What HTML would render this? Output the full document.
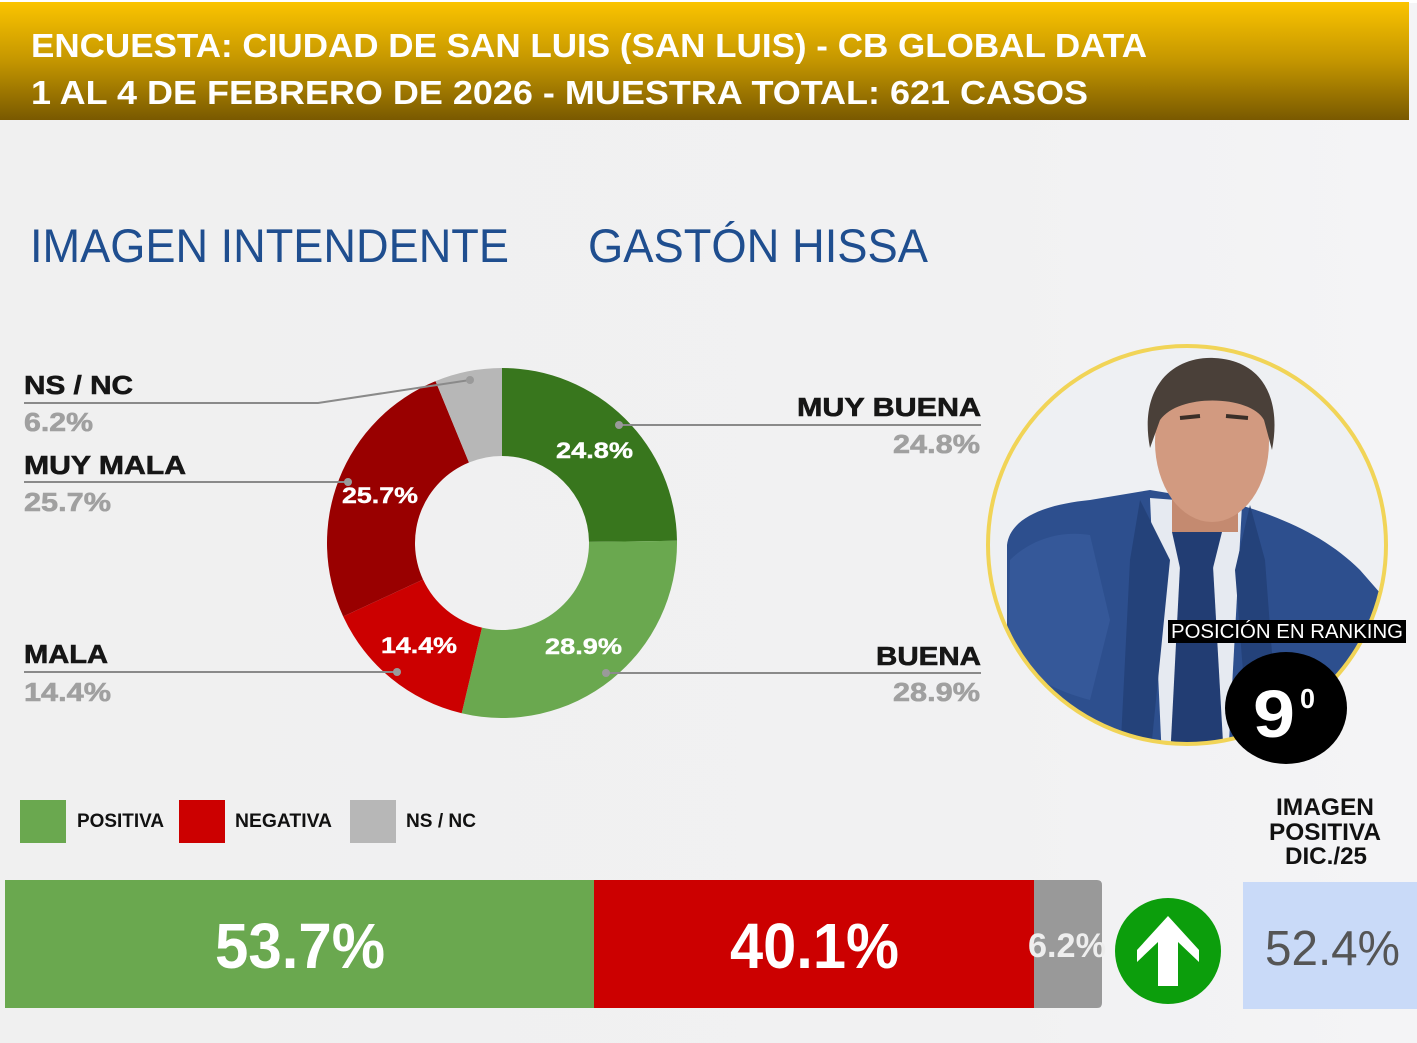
<!DOCTYPE html>
<html><head><meta charset="utf-8"><style>
html,body{margin:0;padding:0;background:#f1f1f1;}
svg{display:block;}
</style></head><body>
<svg width="1417" height="1043" viewBox="0 0 1417 1043" xmlns="http://www.w3.org/2000/svg">
<defs>
<linearGradient id="hdr" x1="0" y1="0" x2="0" y2="1">
<stop offset="0" stop-color="#fbc400"/>
<stop offset="0.5" stop-color="#c49600"/>
<stop offset="1" stop-color="#795900"/>
</linearGradient>
<linearGradient id="bgr" x1="0" y1="0" x2="1" y2="0">
<stop offset="0" stop-color="#f0f0f0"/>
<stop offset="0.7" stop-color="#f1f1f2"/>
<stop offset="1" stop-color="#f4f4f6"/>
</linearGradient>
<clipPath id="cc"><circle cx="1187" cy="545" r="198"/></clipPath>
</defs>
<rect width="1417" height="1043" fill="url(#bgr)"/>
<rect width="1417" height="3" fill="#ffffff"/>
<rect x="0" y="2" width="1409" height="118" fill="url(#hdr)"/>
<g font-family="'Liberation Sans', 'DejaVu Sans', sans-serif" font-weight="bold" fill="#ffffff" font-size="33">
<text x="31" y="57" textLength="1116" lengthAdjust="spacingAndGlyphs">ENCUESTA: CIUDAD DE SAN LUIS (SAN LUIS) - CB GLOBAL DATA</text>
<text x="31" y="104" textLength="1057" lengthAdjust="spacingAndGlyphs">1 AL 4 DE FEBRERO DE 2026 - MUESTRA TOTAL: 621 CASOS</text>
</g>
<g font-family="'Liberation Sans', sans-serif" fill="#1f4e8f" font-size="47">
<text x="30" y="262" textLength="479" lengthAdjust="spacingAndGlyphs">IMAGEN INTENDENTE</text>
<text x="588" y="262" textLength="340" lengthAdjust="spacingAndGlyphs">GASTÓN HISSA</text>
</g>
<!-- donut -->
<path d="M502,368 A175,175 0 0 1 676.99,540.8 L588.99,541.91 A87,87 0 0 0 502,456 Z" fill="#38761d"/>
<path d="M676.99,540.8 A175,175 0 0 1 461.68,713.29 L481.96,627.66 A87,87 0 0 0 588.99,541.91 Z" fill="#6aa84f"/>
<path d="M461.68,713.29 A175,175 0 0 1 343.19,616.52 L423.05,579.55 A87,87 0 0 0 481.96,627.66 Z" fill="#cc0000"/>
<path d="M343.19,616.52 A175,175 0 0 1 435.54,381.11 L468.96,462.52 A87,87 0 0 0 423.05,579.55 Z" fill="#990000"/>
<path d="M435.54,381.11 A175,175 0 0 1 502,368 L502,456 A87,87 0 0 0 468.96,462.52 Z" fill="#b7b7b7"/>
<g font-family="'Liberation Sans', sans-serif" font-weight="bold" fill="#ffffff" font-size="22" stroke="#ffffff" stroke-width="0.4">
<text x="556" y="458" textLength="77" lengthAdjust="spacingAndGlyphs">24.8%</text>
<text x="342" y="503" textLength="76" lengthAdjust="spacingAndGlyphs">25.7%</text>
<text x="381" y="653" textLength="76" lengthAdjust="spacingAndGlyphs">14.4%</text>
<text x="545" y="654" textLength="77" lengthAdjust="spacingAndGlyphs">28.9%</text>
</g>
<!-- leader lines -->
<g stroke="#8a8a8a" stroke-width="2" fill="none">
<polyline points="24,403 318,403 470,380"/>
<line x1="24" y1="482" x2="348" y2="482"/>
<line x1="24" y1="672" x2="397" y2="672"/>
<line x1="619" y1="425" x2="981" y2="425"/>
<line x1="606" y1="673" x2="981" y2="673"/>
</g>
<g fill="#9a9a9a">
<circle cx="470" cy="380" r="4"/>
<circle cx="348" cy="482" r="4"/>
<circle cx="397" cy="672" r="4"/>
<circle cx="619" cy="425" r="4"/>
<circle cx="606" cy="673" r="4"/>
</g>
<g font-family="'Liberation Sans', sans-serif" font-weight="bold" font-size="26" stroke-width="0.6">
<text x="24" y="394" fill="#161616" stroke="#161616" textLength="109" lengthAdjust="spacingAndGlyphs">NS / NC</text>
<text x="24" y="431" fill="#a0a0a0" stroke="#a0a0a0" textLength="69" lengthAdjust="spacingAndGlyphs">6.2%</text>
<text x="24" y="474" fill="#161616" stroke="#161616" textLength="162" lengthAdjust="spacingAndGlyphs">MUY MALA</text>
<text x="24" y="511" fill="#a0a0a0" stroke="#a0a0a0" textLength="87" lengthAdjust="spacingAndGlyphs">25.7%</text>
<text x="24" y="663" fill="#161616" stroke="#161616" textLength="84" lengthAdjust="spacingAndGlyphs">MALA</text>
<text x="24" y="701" fill="#a0a0a0" stroke="#a0a0a0" textLength="87" lengthAdjust="spacingAndGlyphs">14.4%</text>
<text x="797" y="416" fill="#161616" stroke="#161616" textLength="184" lengthAdjust="spacingAndGlyphs">MUY BUENA</text>
<text x="893" y="453" fill="#a0a0a0" stroke="#a0a0a0" textLength="87" lengthAdjust="spacingAndGlyphs">24.8%</text>
<text x="876" y="665" fill="#161616" stroke="#161616" textLength="105" lengthAdjust="spacingAndGlyphs">BUENA</text>
<text x="893" y="701" fill="#a0a0a0" stroke="#a0a0a0" textLength="87" lengthAdjust="spacingAndGlyphs">28.9%</text>
</g>
<!-- photo -->
<g clip-path="url(#cc)">
<rect x="985" y="345" width="405" height="405" fill="#eef0f3"/>
<path d="M1007,545 C1010,520 1040,505 1090,500 L1150,490 L1240,505 C1290,520 1330,540 1360,570 L1395,610 L1395,760 L1090,760 C1060,725 1020,695 1007,665 Z" fill="#2d4f8e"/>
<path d="M1010,560 C1030,540 1060,530 1090,535 L1110,620 L1090,700 C1050,690 1020,670 1008,650 Z" fill="#3a5fa0" opacity="0.6"/>
<path d="M1150,498 L1242,505 L1228,760 L1162,760 Z" fill="#e6eaf1"/>
<path d="M1140,500 L1170,560 L1150,760 L1120,760 L1130,560 Z" fill="#24427a"/>
<path d="M1250,505 L1235,570 L1250,760 L1280,760 L1265,560 Z" fill="#24427a"/>
<path d="M1172,532 L1222,532 L1213,568 L1180,568 Z" fill="#223d73"/>
<path d="M1180,566 L1213,566 L1224,760 L1170,760 Z" fill="#223d73"/>
<rect x="1172" y="468" width="66" height="64" fill="#c48a70"/>
<ellipse cx="1212" cy="442" rx="57" ry="80" fill="#d29a80"/>
<path d="M1150,448 C1138,385 1175,356 1214,358 C1262,360 1282,398 1272,450 L1264,420 C1252,396 1180,392 1160,420 Z" fill="#4a4039"/>
<path d="M1180,418 L1200,416 M1226,416 L1248,418" stroke="#3a2f28" stroke-width="4"/>
</g>
<circle cx="1187" cy="545" r="199" fill="none" stroke="#f1d457" stroke-width="4"/>
<rect x="1168" y="620" width="238" height="23" fill="#000000"/>
<text x="1171" y="638" font-family="'Liberation Sans', sans-serif" font-size="20" fill="#ffffff" textLength="232" lengthAdjust="spacingAndGlyphs">POSICIÓN EN RANKING</text>
<ellipse cx="1286" cy="708" rx="61" ry="56" fill="#000000"/>
<text x="1253" y="737" font-family="'Liberation Sans', sans-serif" font-weight="bold" font-size="67" fill="#ffffff" textLength="42" lengthAdjust="spacingAndGlyphs">9</text>
<text x="1300" y="708" font-family="'Liberation Sans', sans-serif" font-weight="bold" font-size="28" fill="#ffffff" textLength="15" lengthAdjust="spacingAndGlyphs">0</text>
<!-- legend -->
<rect x="20" y="800" width="46" height="43" fill="#6aa84f"/>
<rect x="179" y="800" width="46" height="43" fill="#cc0000"/>
<rect x="350" y="800" width="46" height="43" fill="#b7b7b7"/>
<g font-family="'Liberation Sans', sans-serif" font-weight="bold" font-size="19" fill="#111111">
<text x="77" y="827" textLength="87" lengthAdjust="spacingAndGlyphs">POSITIVA</text>
<text x="235" y="827" textLength="97" lengthAdjust="spacingAndGlyphs">NEGATIVA</text>
<text x="406" y="827" textLength="70" lengthAdjust="spacingAndGlyphs">NS / NC</text>
</g>
<g font-family="'Liberation Sans', sans-serif" font-weight="bold" font-size="24" fill="#111111" text-anchor="middle">
<text x="1325" y="815" textLength="98" lengthAdjust="spacingAndGlyphs">IMAGEN</text>
<text x="1325" y="840" textLength="112" lengthAdjust="spacingAndGlyphs">POSITIVA</text>
<text x="1326" y="864" textLength="82" lengthAdjust="spacingAndGlyphs">DIC./25</text>
</g>
<!-- bar -->
<rect x="5" y="880" width="589" height="128" fill="#6aa84f"/>
<rect x="594" y="880" width="440" height="128" fill="#cc0000"/>
<path d="M1034,880 L1097,880 Q1102,880 1102,885 L1102,1003 Q1102,1008 1097,1008 L1034,1008 Z" fill="#999999"/>
<g font-family="'Liberation Sans', sans-serif" font-weight="bold" fill="#ffffff" font-size="64">
<text x="215" y="968" textLength="170" lengthAdjust="spacingAndGlyphs">53.7%</text>
<text x="730" y="968" textLength="169" lengthAdjust="spacingAndGlyphs">40.1%</text>
</g>
<text x="1028" y="957" font-family="'Liberation Sans', sans-serif" font-weight="bold" font-size="34" fill="#eeeeee" textLength="78" lengthAdjust="spacingAndGlyphs">6.2%</text>
<circle cx="1168" cy="951" r="53" fill="#0c9e0c"/>
<polygon points="1168,916 1199,950 1199,962 1178,942 1178,986 1158,986 1158,942 1137,962 1137,950" fill="#ffffff"/>
<rect x="1243" y="882" width="174" height="127" fill="#c9daf8"/>
<text x="1265" y="965" font-family="'Liberation Sans', sans-serif" font-size="49" fill="#555555" textLength="135" lengthAdjust="spacingAndGlyphs">52.4%</text>
</svg>
</body></html>
